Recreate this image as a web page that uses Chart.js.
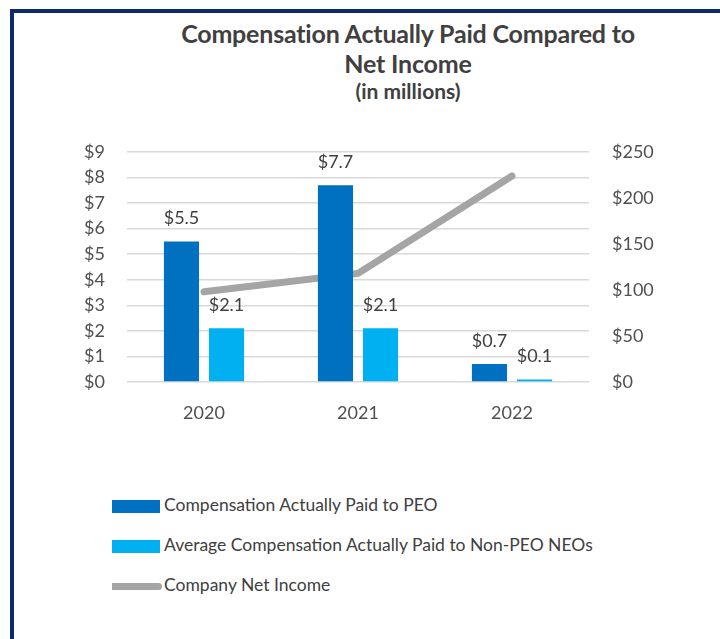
<!DOCTYPE html>
<html>
<head>
<meta charset="utf-8">
<script src="https://cdn.jsdelivr.net/npm/chart.js@4.4.1/dist/chart.umd.min.js"></script>
<style>
  html, body { margin: 0; padding: 0; background: #fff; }
  #page { position: relative; width: 720px; height: 639px; overflow: hidden; }
  #frame { position: absolute; left: 10px; top: 9px; right: -10px; bottom: -10px;
           border-top: 4px solid #0d2a6c; border-left: 4px solid #0d2a6c; }
  .title { position: absolute; left: 108px; width: 600px; text-align: center; color: #404040;
           font-family: "Lato", sans-serif; font-weight: bold; white-space: nowrap; }
  #t1 { top: 18px; font-size: 25px; letter-spacing: -0.2px; }
  #t2 { top: 48px; font-size: 25px; letter-spacing: -0.2px; }
  #t3 { top: 78px; font-size: 21px; }
  #chart-wrap { position: absolute; left: 0; top: 0; width: 720px; height: 440px; }
  #legend { position: absolute; left: 112px; top: 494px; font-family: "Lato", sans-serif;
            font-size: 17.5px; color: #404040; }
  #legend .item { height: 40px; display: flex; align-items: flex-start; }
  #legend .swatch { width: 48px; height: 13px; margin-top: 6px; margin-right: 4px; }
  #legend .line { width: 50px; height: 7px; margin-top: 9px; margin-right: 2px; border-radius: 0 4px 4px 0; }
</style>
</head>
<body>
<div id="page">
  <div id="frame"></div>
  <div class="title" id="t1">Compensation Actually Paid Compared to</div>
  <div class="title" id="t2">Net Income</div>
  <div class="title" id="t3">(in millions)</div>
  <div id="chart-wrap"><canvas id="chart" width="720" height="440"></canvas></div>
  <div id="legend"></div>
</div>
<script>
const years = ['2020', '2021', '2022'];
const peoPaid = [5.5, 7.7, 0.7];
const neoPaid = [2.1, 2.1, 0.1];
const netIncome = [98, 118, 224];
const leftTicks = [0, 1, 2, 3, 4, 5, 6, 7, 8, 9];
const rightTicks = [0, 50, 100, 150, 200, 250];

const textColor = '#505050';
const tickFont = { family: 'Lato, sans-serif', size: 18 };

// draws "$x.x" over each bar
const barLabels = {
  id: 'barLabels',
  afterDatasetsDraw(chart) {
    const ctx = chart.ctx;
    ctx.save();
    ctx.font = '18px Lato, sans-serif';
    ctx.fillStyle = '#404040';
    ctx.textAlign = 'center';
    ctx.textBaseline = 'middle';
    chart.data.datasets.forEach((ds, i) => {
      if (ds.type !== 'bar') return;
      chart.getDatasetMeta(i).data.forEach((el, j) => {
        ctx.fillText('$' + ds.data[j].toFixed(1), el.x, el.y - 23);
      });
    });
    ctx.restore();
  }
};

const chart = new Chart(document.getElementById('chart'), {
  data: {
    labels: years,
    datasets: [
      { type: 'line', label: 'Company Net Income', data: netIncome, yAxisID: 'y2',
        borderColor: '#a5a5a5', borderWidth: 7, borderCapStyle: 'round', pointRadius: 0,
        tension: 0, order: 3 },
      { type: 'bar', label: 'Compensation Actually Paid to PEO', data: peoPaid, yAxisID: 'y',
        backgroundColor: '#0070c0', barPercentage: 0.78, categoryPercentage: 0.585, order: 1 },
      { type: 'bar', label: 'Average Compensation Actually Paid to Non-PEO NEOs', data: neoPaid, yAxisID: 'y',
        backgroundColor: '#00b0f0', barPercentage: 0.78, categoryPercentage: 0.585, order: 2 }
    ]
  },
  options: {
    responsive: false,
    animation: false,
    layout: { padding: { top: 152, left: 0, right: 0, bottom: 0 } },
    plugins: { legend: { display: false }, tooltip: { enabled: false } },
    scales: {
      x: {
        grid: { display: false, drawTicks: false },
        border: { display: false },
        ticks: { color: textColor, font: tickFont, padding: 20 },
        afterFit(s) { s.height = 58; }
      },
      y: {
        position: 'left', min: 0, max: 9,
        afterBuildTicks(s) { s.ticks = leftTicks.map(v => ({ value: v })); },
        grid: { color: '#d9d9d9', lineWidth: 1.5, drawTicks: false },
        border: { display: false },
        ticks: { color: textColor, font: tickFont, padding: 22, callback: v => '$' + v },
        afterFit(s) { s.width = 127; }
      },
      y2: {
        position: 'right', min: 0, max: 250,
        afterBuildTicks(s) { s.ticks = rightTicks.map(v => ({ value: v })); },
        grid: { display: false, drawTicks: false },
        border: { display: false },
        ticks: { color: textColor, font: tickFont, padding: 23, callback: v => '$' + v },
        afterFit(s) { s.width = 131; }
      }
    }
  },
  plugins: [barLabels]
});

// html legend, one row per dataset, bars first
const legend = document.getElementById('legend');
[1, 2, 0].forEach(i => {
  const ds = chart.data.datasets[i];
  const row = document.createElement('div');
  row.className = 'item';
  const mark = document.createElement('div');
  mark.className = ds.type === 'line' ? 'line' : 'swatch';
  mark.style.background = ds.type === 'line' ? ds.borderColor : ds.backgroundColor;
  const txt = document.createElement('span');
  txt.textContent = ds.label;
  row.appendChild(mark);
  row.appendChild(txt);
  legend.appendChild(row);
});
</script>
</body>
</html>
